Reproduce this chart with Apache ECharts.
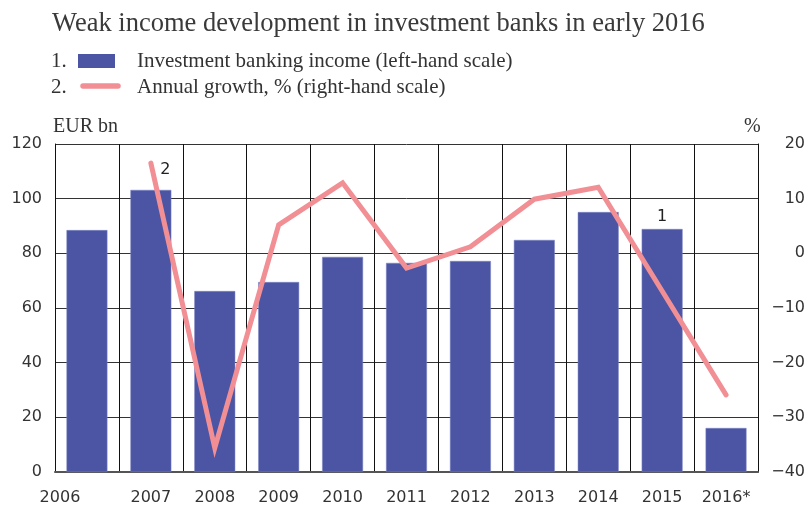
<!DOCTYPE html>
<html>
<head>
<meta charset="utf-8">
<script src="https://cdn.jsdelivr.net/npm/echarts@6/dist/echarts.min.js"></script>
<style>html,body{margin:0;padding:0;background:#fff}#c{width:808px;height:506px}</style>
</head>
<body>
<div id="c"></div>
<script>
const categories = ['2006','2007','2008','2009','2010','2011','2012','2013','2014','2015','2016*'];
const incomeValues = [88.5, 103.2, 66.2, 69.5, 78.7, 76.5, 77.2, 84.9, 95.1, 88.9, 16.1];
const growthValues = [null, 16.5, -35.6, 5.2, 12.9, -2.7, 1.2, 9.9, 12.1, -6.9, -25.9];
const leftTicks = [0, 20, 40, 60, 80, 100, 120];
const rightTicks = [-40, -30, -20, -10, 0, 10, 20];

const chart = echarts.init(document.getElementById('c'), null, {renderer: 'canvas'});
const serif = 'Liberation Serif';
const sans = 'DejaVu Sans';
const txt = '#333';
const lf = '21px "Liberation Serif"';

const barData = incomeValues.map((v, i) => i === 9 ? {value: v, label: {show: true, position: 'top', distance: 4, formatter: '1', fontFamily: sans, fontSize: 16, color: '#222'}} : v);
const lineData = growthValues.map((v, i) => i === 1 ? {value: v, label: {show: true, position: 'right', distance: 9, offset: [0, 7], formatter: '2', fontFamily: sans, fontSize: 16, color: '#222'}} : v);

chart.setOption({
  animation: false,
  backgroundColor: '#fff',
  title: {
    text: 'Weak income development in investment banks in early 2016',
    left: 52, top: 11, padding: 0,
    textStyle: {fontFamily: serif, fontWeight: 'normal', fontSize: 26.5, color: '#3a3a3a'}
  },
  graphic: [
    {type: 'text', left: 51, top: 51, style: {text: '1.', font: lf, fill: txt}},
    {type: 'rect', shape: {x: 78, y: 54, width: 37, height: 14}, style: {fill: '#4b55a4'}},
    {type: 'text', left: 137, top: 51, style: {text: 'Investment banking income (left-hand scale)', font: lf, fill: txt}},
    {type: 'text', left: 51, top: 77, style: {text: '2.', font: lf, fill: txt}},
    {type: 'line', shape: {x1: 83, y1: 86, x2: 118, y2: 86}, style: {stroke: '#f18f95', lineWidth: 5.5, lineCap: 'round'}},
    {type: 'text', left: 137, top: 77, style: {text: 'Annual growth, % (right-hand scale)', font: lf, fill: txt}},
    {type: 'text', left: 53, top: 117, style: {text: 'EUR bn', font: '20px "Liberation Serif"', fill: txt}},
    {type: 'text', left: 744, top: 117, style: {text: '%', font: '20px "Liberation Serif"', fill: txt}}
  ],
  grid: {left: 55, right: 47, top: 144, bottom: 32, containLabel: false},
  xAxis: {
    type: 'category',
    data: categories,
    boundaryGap: true,
    axisLine: {show: true, lineStyle: {color: '#555', width: 2}},
    axisTick: {show: false},
    splitLine: {show: true, interval: 0, lineStyle: {color: '#111', width: 1}},
    axisLabel: {
      interval: 0, margin: 18, fontFamily: sans, fontSize: 16, color: txt,
      formatter: (v, i) => i === 0 ? '{s|' + v + '}' : v,
      rich: {s: {fontFamily: sans, fontSize: 16, color: txt, padding: [0, 54, 0, 0]}}
    }
  },
  yAxis: [
    {
      type: 'value', min: 0, max: 120, interval: 20,
      axisLine: {show: true, lineStyle: {color: '#111', width: 1}},
      axisTick: {show: false},
      splitLine: {show: true, lineStyle: {color: '#333', width: 1}},
      axisLabel: {margin: 13, fontFamily: sans, fontSize: 16, color: txt,
        formatter: v => leftTicks.includes(v) ? String(v) : ''}
    },
    {
      type: 'value', min: -40, max: 20, interval: 10,
      axisLine: {show: true, lineStyle: {color: '#111', width: 1}},
      axisTick: {show: false},
      splitLine: {show: false},
      axisLabel: {margin: 47, align: 'right', fontFamily: sans, fontSize: 16, color: txt,
        formatter: v => rightTicks.includes(v) ? String(v).replace('-', '\u2212') : ''}
    }
  ],
  series: [
    {
      name: 'Investment banking income (left-hand scale)',
      type: 'bar', yAxisIndex: 0, data: barData, barWidth: '64%',
      itemStyle: {color: '#4b55a4', borderColor: '#7d85c2', borderWidth: 0.5}
    },
    {
      name: 'Annual growth, % (right-hand scale)',
      type: 'line', yAxisIndex: 1, data: lineData, symbol: 'circle', symbolSize: 1, showSymbol: true,
      itemStyle: {color: '#f18f95'},
      connectNulls: false,
      lineStyle: {color: '#f18f95', width: 5, cap: 'round', join: 'miter'}
    }
  ]
});
</script>
</body>
</html>
